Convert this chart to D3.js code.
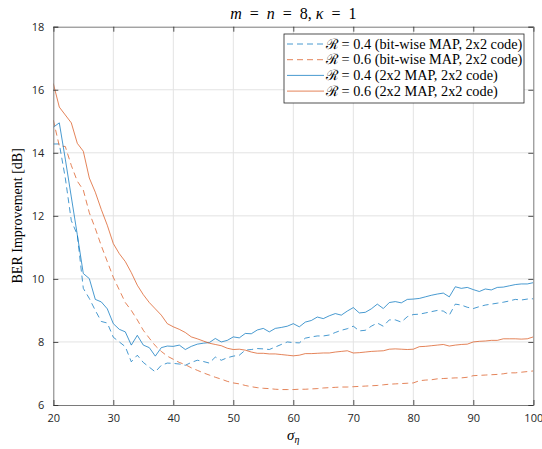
<!DOCTYPE html>
<html><head><meta charset="utf-8">
<script src="https://cdn.jsdelivr.net/npm/d3@7"></script>
<style>
body{margin:0;background:#fff;}
svg{display:block;}
</style></head>
<body><svg id="c" width="542" height="449"></svg>
<script>
const xStart = 20;
const xTicks = [20,30,40,50,60,70,80,90,100];
const yTicks = [6,8,10,12,14,16,18];
const seriesNames = ["\u211B = 0.4 (bit-wise MAP, 2x2 code)","\u211B = 0.6 (bit-wise MAP, 2x2 code)","\u211B = 0.4 (2x2 MAP, 2x2 code)","\u211B = 0.6 (2x2 MAP, 2x2 code)"];
const bitwise04 = [14.28,14.28,13.2,11.85,11.4,9.7,9.38,9.0,8.65,8.6,8.15,8.0,7.85,7.37,7.58,7.35,7.2,7.05,7.26,7.33,7.32,7.3,7.26,7.35,7.42,7.38,7.33,7.52,7.42,7.5,7.55,7.58,7.74,7.76,7.79,7.78,7.76,7.84,7.92,8.0,7.98,7.97,8.12,8.16,8.19,8.19,8.22,8.3,8.37,8.42,8.5,8.35,8.37,8.5,8.6,8.5,8.7,8.7,8.63,8.8,8.87,8.88,8.92,8.96,9.0,8.98,8.85,9.2,9.17,9.1,9.06,9.12,9.17,9.2,9.23,9.26,9.3,9.35,9.33,9.36,9.37];
const bitwise06 = [15.04,14.22,14.2,13.6,13.1,12.82,12.1,11.6,11.05,10.55,10.05,9.65,9.25,9.0,8.7,8.37,8.12,7.88,7.7,7.55,7.45,7.35,7.28,7.18,7.1,7.02,6.95,6.88,6.82,6.75,6.7,6.67,6.62,6.58,6.55,6.53,6.52,6.5,6.49,6.49,6.49,6.5,6.5,6.51,6.52,6.54,6.55,6.56,6.57,6.57,6.58,6.59,6.6,6.61,6.62,6.64,6.66,6.67,6.68,6.69,6.7,6.77,6.79,6.8,6.83,6.84,6.85,6.86,6.86,6.88,6.93,6.94,6.95,6.96,6.97,6.99,7.02,7.02,7.04,7.06,7.08];
const map04 = [14.81,14.95,13.8,12.6,11.4,10.17,10.01,9.35,9.27,9.05,8.58,8.4,8.32,7.9,8.21,7.9,7.82,7.55,7.82,7.87,7.86,7.9,7.76,7.86,7.93,7.96,7.98,8.11,8.0,8.05,8.16,8.13,8.27,8.26,8.38,8.43,8.32,8.43,8.46,8.5,8.58,8.48,8.63,8.68,8.79,8.74,8.83,8.9,8.85,8.98,9.09,8.92,8.94,9.05,9.2,9.06,9.25,9.28,9.24,9.35,9.36,9.38,9.43,9.48,9.52,9.55,9.43,9.75,9.7,9.73,9.66,9.6,9.68,9.65,9.73,9.74,9.78,9.82,9.84,9.84,9.88];
const map06 = [16.2,15.45,15.2,14.95,14.3,14.05,13.2,12.75,12.2,11.7,11.12,10.8,10.55,10.2,9.8,9.5,9.25,9.05,8.85,8.58,8.48,8.4,8.3,8.16,8.1,8.03,7.96,7.92,7.88,7.8,7.76,7.77,7.74,7.68,7.64,7.64,7.62,7.62,7.6,7.58,7.56,7.58,7.63,7.63,7.64,7.65,7.65,7.68,7.7,7.72,7.65,7.66,7.68,7.7,7.71,7.72,7.77,7.78,7.77,7.76,7.77,7.85,7.86,7.88,7.9,7.92,7.87,7.9,7.92,7.93,8.0,8.02,8.03,8.05,8.05,8.1,8.1,8.1,8.09,8.1,8.16];

const series = [
  {name: seriesNames[0], values: bitwise04, color: "#0072BD", dash: "6,4"},
  {name: seriesNames[1], values: bitwise06, color: "#D95319", dash: "6,4"},
  {name: seriesNames[2], values: map04, color: "#0072BD", dash: null},
  {name: seriesNames[3], values: map06, color: "#D95319", dash: null}
];

const L = 53.3, R = 533.3, T = 26.7, B = 405;
const svg = d3.select("#c");
const x = d3.scaleLinear().domain([20,100]).range([L,R]);
const y = d3.scaleLinear().domain([6,18]).range([B,T]);
const axisCol = "#262626";

// grid
const g = svg.append("g");
g.selectAll(".gx").data(xTicks.slice(1,-1)).enter().append("line")
  .attr("x1",d=>x(d)).attr("x2",d=>x(d)).attr("y1",T).attr("y2",B)
  .attr("stroke","#e3e3e3").attr("stroke-width",1);
g.selectAll(".gy").data(yTicks.slice(1,-1)).enter().append("line")
  .attr("x1",L).attr("x2",R).attr("y1",d=>y(d)).attr("y2",d=>y(d))
  .attr("stroke","#e3e3e3").attr("stroke-width",1);

// lines
const line = d3.line().x((d,i)=>x(xStart+i)).y(d=>y(d));
svg.append("clipPath").attr("id","clip").append("rect").attr("x",L).attr("y",T).attr("width",R-L).attr("height",B-T);
series.forEach(s=>{
  svg.append("path").datum(s.values).attr("d",line)
    .attr("fill","none").attr("stroke",s.color).attr("stroke-width",0.9)
    .attr("stroke-opacity",0.8)
    .attr("stroke-dasharray",s.dash).attr("clip-path","url(#clip)");
});

// axes
const fontTick = '"Open Sans","DejaVu Sans",sans-serif';
const xAxB = d3.axisBottom(x).tickValues(xTicks).tickSize(-5).tickPadding(9);
const xAxT = d3.axisTop(x).tickValues(xTicks).tickSize(-5).tickFormat("");
const yAxL = d3.axisLeft(y).tickValues(yTicks).tickSize(-5).tickPadding(9);
const yAxR = d3.axisRight(y).tickValues(yTicks).tickSize(-5).tickFormat("");
function style(sel){
  sel.selectAll("path").attr("stroke","#7a7a7a").attr("stroke-width",1);
  sel.selectAll("line").attr("stroke",axisCol).attr("stroke-width",0.8);
  sel.selectAll("text").attr("fill",axisCol).style("font-family",fontTick).style("font-size","11px");
}
style(svg.append("g").attr("transform",`translate(0,${B})`).call(xAxB));
style(svg.append("g").attr("transform",`translate(0,${T})`).call(xAxT));
style(svg.append("g").attr("transform",`translate(${L},0)`).call(yAxL));
style(svg.append("g").attr("transform",`translate(${R},0)`).call(yAxR));

// title
const serif = '"Liberation Serif","DejaVu Serif",serif';
const title = svg.append("text").attr("x",(L+R)/2).attr("y",19).attr("text-anchor","middle")
  .style("font-family",serif).style("font-size","16px").attr("fill","#000");
title.append("tspan").attr("font-style","italic").text("m");
title.append("tspan").text("\u2002=\u2002");
title.append("tspan").attr("font-style","italic").text("n");
title.append("tspan").text("\u2002=\u20028, ");
title.append("tspan").attr("font-style","italic").text("\u03BA");
title.append("tspan").text("\u2002=\u20021");

// y label
svg.append("text").attr("transform",`translate(22,${(T+B)/2}) rotate(-90)`).attr("text-anchor","middle")
  .style("font-family",serif).style("font-size","14px").attr("fill","#000").text("BER Improvement [dB]");
// x label
const xl = svg.append("text").attr("x",(L+R)/2).attr("y",440).attr("text-anchor","middle")
  .style("font-family",serif).style("font-size","15px").attr("fill","#000");
xl.append("tspan").attr("font-style","italic").text("\u03C3");
xl.append("tspan").attr("font-style","italic").attr("font-size","10px").attr("dy",3).text("\u03B7");

// legend
const lg = svg.append("g");
const lx = 284, ly = 34, lw = 240, lh = 69;
lg.append("rect").attr("x",lx).attr("y",ly).attr("width",lw).attr("height",lh)
  .attr("fill","#fff").attr("stroke","#262626").attr("stroke-width",0.8);
series.forEach((s,i)=>{
  const cy = ly + 10 + i*15.7;
  lg.append("line").attr("x1",lx+3).attr("x2",lx+40).attr("y1",cy).attr("y2",cy)
    .attr("stroke",s.color).attr("stroke-width",0.9).attr("stroke-opacity",0.8).attr("stroke-dasharray",s.dash);
  lg.append("text").attr("x",lx+42).attr("y",cy+4.5)
    .style("font-family",serif).style("font-size","14.3px").attr("fill","#000").text(s.name);
});
</script></body></html>
